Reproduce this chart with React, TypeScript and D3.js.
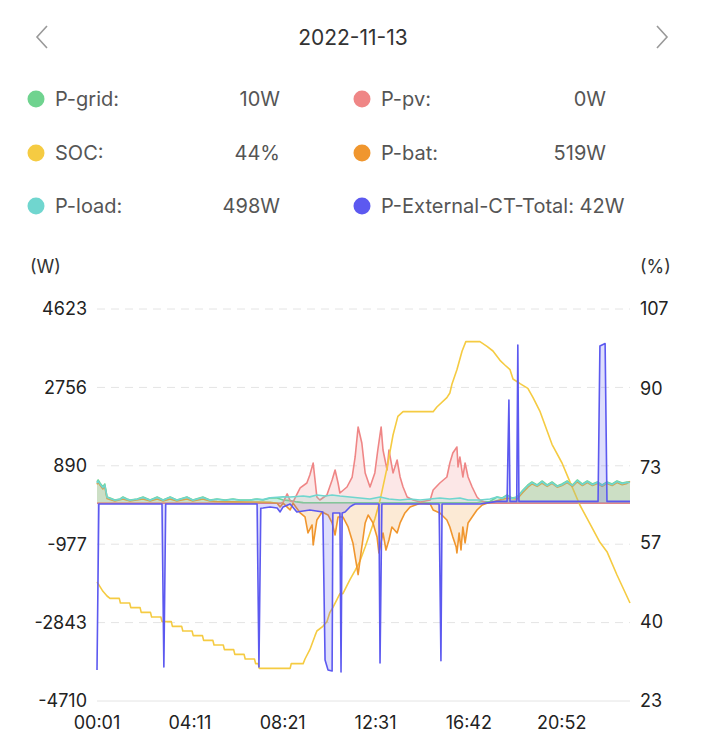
import React from 'react';
import * as d3 from 'd3';

// header + legend
const dateLabel = '2022-11-13';
const legendItems = [
  { name: 'P-grid:', value: '10W', color: '#6fd38f' },
  { name: 'P-pv:', value: '0W', color: '#ef8686' },
  { name: 'SOC:', value: '44%', color: '#f5cb42' },
  { name: 'P-bat:', value: '519W', color: '#f0962e' },
  { name: 'P-load:', value: '498W', color: '#70d6cf' },
  { name: 'P-External-CT-Total:', value: '42W', color: '#5c59f0' },
];

// axes
const leftTicks = [4623, 2756, 890, -977, -2843, -4710];
const rightTicks = [107, 90, 73, 57, 40, 23];
const timeTicks = ['00:01', '04:11', '08:21', '12:31', '16:42', '20:52'];
const timeStart = '00:01';
const timeEnd = '23:56';

type Pt = [string, number];

// P-grid (W)
const gridData: Pt[] = [
  ['00:01', 504], ['00:04', 552], ['00:09', 480], ['00:17', 385], ['00:22', 456], ['00:28', 147],
  ['00:36', 123], ['00:49', 76], ['01:03', 100], ['01:11', 147], ['01:22', 100], ['01:30', 76],
  ['01:49', 100], ['02:05', 147], ['02:24', 76], ['02:43', 147], ['02:59', 76], ['03:18', 147],
  ['03:36', 76], ['04:03', 147], ['04:19', 76], ['04:46', 147], ['05:05', 76], ['05:24', 100],
  ['05:46', 76], ['06:07', 100], ['06:26', 76], ['06:53', 76], ['07:12', 100], ['07:28', 76],
  ['07:47', 123], ['08:06', 123], ['08:22', 76], ['08:41', 60], ['08:59', 30], ['09:16', 12],
  ['17:04', 10], ['17:12', 28], ['17:39', 40], ['17:58', 147], ['18:12', 123], ['18:25', 195],
  ['18:38', 123], ['18:52', 147], ['19:08', 314], ['19:21', 433], ['19:32', 504], ['19:46', 433],
  ['19:59', 528], ['20:13', 433], ['20:26', 504], ['20:40', 409], ['20:53', 456], ['21:07', 528],
  ['21:21', 433], ['21:34', 552], ['21:48', 456], ['22:01', 528], ['22:15', 456], ['22:28', 504],
  ['22:41', 433], ['22:54', 504], ['23:08', 456], ['23:21', 528], ['23:35', 480], ['23:48', 504],
  ['23:56', 504],
];

// P-pv (W)
const pvData: Pt[] = [
  ['00:01', 0], ['08:14', 0], ['08:22', 20], ['08:33', 220], ['08:41', 60], ['08:49', 30],
  ['09:08', 362], ['09:26', 480], ['09:34', 671], ['09:43', 957], ['09:48', 552], ['09:53', 147],
  ['10:01', 76], ['10:20', 195], ['10:34', 552], ['10:42', 790], ['10:50', 480], ['10:55', 242],
  ['11:14', 385], ['11:28', 623], ['11:36', 1100], ['11:44', 1814], ['11:54', 1433], ['12:03', 719],
  ['12:16', 385], ['12:29', 719], ['12:37', 1266], ['12:46', 1814], ['12:51', 1266], ['13:02', 790],
  ['13:07', 1266], ['13:18', 719], ['13:29', 1028], ['13:37', 623], ['13:45', 385], ['13:56', 147],
  ['14:12', 76], ['14:31', 28], ['14:58', 76], ['15:06', 314], ['15:24', 480], ['15:43', 623],
  ['15:51', 957], ['15:59', 1195], ['16:10', 1338], ['16:13', 862], ['16:18', 1100], ['16:26', 623],
  ['16:32', 957], ['16:40', 623], ['16:51', 385], ['17:04', 147], ['17:12', 76], ['17:31', 0],
  ['23:56', 0],
];

// SOC (%)
const socData: Pt[] = [
  ['00:01', 48.5], ['00:09', 47.5], ['00:17', 46.5], ['00:28', 45.5], ['00:36', 45], ['01:01', 45],
  ['01:04', 44], ['01:29', 44], ['01:32', 43], ['01:57', 43], ['02:00', 42], ['02:25', 42],
  ['02:28', 41], ['02:53', 41], ['02:56', 40], ['03:21', 40], ['03:24', 39], ['03:49', 39],
  ['03:52', 38], ['04:17', 38], ['04:20', 37], ['04:45', 37], ['04:48', 36], ['05:13', 36],
  ['05:16', 35], ['05:41', 35], ['05:44', 34], ['06:09', 34], ['06:12', 33], ['06:37', 33],
  ['06:40', 32], ['07:05', 32], ['07:08', 31], ['07:15', 31], ['07:18', 30], ['08:41', 30],
  ['08:44', 31], ['09:16', 31], ['09:21', 32], ['09:34', 34], ['09:48', 37], ['09:53', 38],
  ['10:09', 39], ['10:20', 40], ['10:28', 42], ['10:36', 43], ['10:55', 46], ['11:03', 46],
  ['11:22', 49], ['11:36', 51], ['11:49', 53], ['12:03', 56], ['12:16', 59], ['12:29', 62],
  ['12:43', 66], ['13:02', 73], ['13:18', 80], ['13:31', 84], ['13:45', 85], ['15:06', 85],
  ['15:16', 86], ['15:43', 88], ['15:51', 89], ['15:57', 91], ['16:10', 94], ['16:24', 98],
  ['16:34', 100], ['17:12', 100], ['17:31', 99], ['17:47', 98], ['18:06', 96], ['18:19', 95],
  ['18:33', 94], ['18:41', 92], ['19:00', 91], ['19:21', 90], ['19:35', 88], ['19:54', 85],
  ['20:26', 78], ['20:53', 74], ['21:14', 70], ['21:41', 65], ['22:08', 61], ['22:35', 57],
  ['22:54', 55], ['23:21', 50], ['23:56', 44],
];

// P-bat (W)
const batData: Pt[] = [
  ['00:01', 450], ['00:04', 500], ['00:09', 430], ['00:17', 340], ['00:22', 400], ['00:28', 110],
  ['00:36', 85], ['00:49', 50], ['01:11', 100], ['01:30', 50], ['02:05', 100], ['02:24', 50],
  ['02:43', 100], ['02:59', 50], ['03:18', 100], ['03:36', 50], ['04:03', 100], ['04:19', 50],
  ['04:46', 100], ['05:05', 50], ['05:24', 40], ['06:07', 30], ['06:53', 28], ['07:12', 28],
  ['07:47', 20], ['08:06', 0], ['08:14', -90], ['08:22', 0], ['08:41', -162], ['08:49', 0],
  ['09:08', -233], ['09:21', -328], ['09:29', -709], ['09:40', -519], ['09:43', -995], ['09:53', -400],
  ['10:07', -209], ['10:23', -281], ['10:34', -471], ['10:42', -757], ['10:50', -328], ['11:03', -328],
  ['11:17', -566], ['11:30', -947], ['11:44', -1700], ['11:54', -1043], ['12:03', -471], ['12:11', -281],
  ['12:24', -471], ['12:35', -805], ['12:40', -1186], ['12:51', -709], ['12:59', -1115], ['13:07', -876],
  ['13:15', -566], ['13:29', -709], ['13:37', -471], ['13:50', -233], ['14:04', -90], ['14:31', 0],
  ['14:58', -20], ['15:06', -162], ['15:24', -233], ['15:43', -400], ['15:51', -566], ['15:59', -805],
  ['16:08', -1043], ['16:10', -1186], ['16:16', -709], ['16:21', -1115], ['16:26', -566], ['16:32', -947],
  ['16:40', -471], ['16:51', -328], ['17:04', -162], ['17:18', -43], ['17:31', 0], ['17:58', 60],
  ['18:25', 120], ['18:52', 100], ['19:08', 260], ['19:21', 380], ['19:32', 460], ['19:46', 400],
  ['19:59', 480], ['20:13', 400], ['20:26', 470], ['20:40', 380], ['20:53', 420], ['21:07', 490],
  ['21:21', 400], ['21:34', 510], ['21:48', 420], ['22:01', 490], ['22:15', 420], ['22:28', 470],
  ['22:41', 400], ['22:54', 470], ['23:08', 420], ['23:21', 490], ['23:35', 440], ['23:48', 470],
  ['23:56', 519],
];

// P-load (W)
const loadData: Pt[] = [
  ['00:01', 480], ['00:04', 530], ['00:09', 460], ['00:17', 370], ['00:22', 430], ['00:28', 140],
  ['00:36', 110], ['00:49', 70], ['01:03', 90], ['01:11', 135], ['01:22', 90], ['01:30', 70],
  ['01:49', 95], ['02:05', 135], ['02:24', 70], ['02:43', 135], ['02:59', 70], ['03:18', 140],
  ['03:36', 70], ['04:03', 140], ['04:19', 70], ['04:46', 135], ['05:05', 70], ['05:24', 95],
  ['05:46', 70], ['06:07', 95], ['06:26', 70], ['06:53', 75], ['07:12', 95], ['07:28', 85],
  ['07:47', 130], ['08:06', 140], ['08:22', 150], ['08:41', 147], ['08:59', 160], ['09:16', 171],
  ['09:34', 150], ['09:53', 195], ['10:15', 171], ['10:34', 195], ['10:55', 171], ['11:22', 147],
  ['11:49', 123], ['12:16', 100], ['12:43', 147], ['13:07', 100], ['13:37', 76], ['14:04', 100],
  ['14:31', 76], ['14:58', 100], ['15:24', 123], ['15:51', 100], ['16:18', 123], ['16:40', 76],
  ['17:12', 76], ['17:39', 100], ['17:58', 147], ['18:12', 110], ['18:25', 180], ['18:38', 110],
  ['18:52', 140], ['19:08', 300], ['19:21', 415], ['19:32', 490], ['19:46', 420], ['19:59', 510],
  ['20:13', 420], ['20:26', 490], ['20:40', 395], ['20:53', 440], ['21:07', 515], ['21:21', 420],
  ['21:34', 535], ['21:48', 440], ['22:01', 515], ['22:15', 440], ['22:28', 490], ['22:41', 420],
  ['22:54', 490], ['23:08', 440], ['23:21', 515], ['23:35', 465], ['23:48', 490], ['23:56', 498],
];

// P-External-CT-Total (W)
const extData: Pt[] = [
  ['00:01', -3972], ['00:06', -20], ['02:56', -20], ['03:01', -3900], ['03:06', -20], ['07:12', -20],
  ['07:17', -3900], ['07:22', -120], ['07:28', -114], ['07:47', -90], ['08:06', -114], ['08:14', -209],
  ['08:22', -90], ['08:41', -20], ['08:59', -209], ['09:34', -162], ['10:09', -209], ['10:15', -3734],
  ['10:23', -3972], ['10:34', -3995], ['10:36', -233], ['10:55', -233], ['10:58', -4020], ['11:01', -233],
  ['11:09', -209], ['11:22', -90], ['11:30', -43], ['11:36', -20], ['12:40', -20], ['12:43', -3805],
  ['12:48', -20], ['15:22', -20], ['15:27', -3750], ['15:30', -20], ['17:12', -20], ['17:58', 42],
  ['18:25', 42], ['18:30', 2456], ['18:33', 42], ['18:51', 42], ['18:54', 3766], ['18:57', 42],
  ['22:30', 42], ['22:35', 3740], ['22:49', 3800], ['22:54', 42], ['23:56', 42],
];

const toMin = (t: string) => {
  const [h, m] = t.split(':').map(Number);
  return h * 60 + m;
};

export default function App() {
  const plot = { left: 97, right: 630, top: 309, bottom: 701 };

  const x = d3.scaleLinear()
    .domain([toMin(timeStart), toMin(timeEnd)])
    .range([plot.left, plot.right]);
  const yW = d3.scaleLinear()
    .domain([leftTicks[leftTicks.length - 1], leftTicks[0]])
    .range([plot.bottom, plot.top]);
  const yP = d3.scaleLinear()
    .domain([rightTicks[rightTicks.length - 1], rightTicks[0]])
    .range([plot.bottom, plot.top]);

  const line = d3.line<Pt>().x(d => x(toMin(d[0]))).y(d => yW(d[1]));
  const area = d3.area<Pt>().x(d => x(toMin(d[0]))).y0(yW(0)).y1(d => yW(d[1]));
  const socLine = d3.line<Pt>().x(d => x(toMin(d[0]))).y(d => yP(d[1]));

  const series = [
    { data: gridData, color: legendItems[0].color },
    { data: pvData, color: legendItems[1].color },
    { data: null, color: legendItems[2].color },
    { data: batData, color: legendItems[3].color },
    { data: loadData, color: legendItems[4].color },
    { data: extData, color: legendItems[5].color },
  ];

  const font = 'Inter, "Noto Sans", sans-serif';
  const rows = [99, 153, 206];

  return (
    <div style={{ position: 'absolute', left: 0, top: 0 }}>
      <svg width={706} height={750} style={{ display: 'block', fontFamily: font }}>
        <rect width={706} height={750} fill="#fff" />

        {/* header */}
        <path d="M47,26 L37,37 L47,48" fill="none" stroke="#999" strokeWidth={1.6} />
        <path d="M657,26 L667,37 L657,48" fill="none" stroke="#999" strokeWidth={1.6} />
        <text x={353} y={45} textAnchor="middle" fontSize={21} fill="#333">{dateLabel}</text>

        {/* legend */}
        {legendItems.map((it, i) => {
          const col = i % 2;
          const cy = rows[Math.floor(i / 2)];
          const cx = col === 0 ? 36 : 362;
          const valX = col === 0 ? 280 : 606;
          const inline = it.name.length > 12;
          return (
            <g key={it.name}>
              <circle cx={cx} cy={cy} r={8.5} fill={it.color} />
              <text x={cx + 19} y={cy + 7} fontSize={20} fill="#555">
                {inline ? `${it.name} ${it.value}` : it.name}
              </text>
              {!inline && (
                <text x={valX} y={cy + 7} fontSize={20} fill="#555" textAnchor="end">{it.value}</text>
              )}
            </g>
          );
        })}

        {/* axis units */}
        <text x={30} y={273} fontSize={18} fill="#333">(W)</text>
        <text x={640} y={273} fontSize={18} fill="#333">(%)</text>

        {/* grid */}
        {leftTicks.map((v, i) => (
          <line key={v} x1={plot.left} x2={plot.right} y1={yW(v)} y2={yW(v)}
            stroke="#e4e4e4" strokeWidth={1}
            strokeDasharray={i === leftTicks.length - 1 ? undefined : '8,6'} />
        ))}
        {leftTicks.map(v => (
          <text key={v} x={87} y={yW(v)} dy="0.36em" textAnchor="end" fontSize={18} fill="#222">{v}</text>
        ))}
        {rightTicks.map(v => (
          <text key={v} x={640} y={yP(v)} dy="0.36em" fontSize={18} fill="#222">{v}</text>
        ))}
        {timeTicks.map(t => (
          <text key={t} x={x(toMin(t))} y={729} textAnchor="middle" fontSize={18} fill="#222">{t}</text>
        ))}

        {/* series */}
        {series.map((s, i) => s.data ? (
          <g key={i}>
            <path d={area(s.data) || ''} fill={s.color} fillOpacity={0.2} />
            <path d={line(s.data) || ''} fill="none" stroke={s.color} strokeWidth={1.6} strokeLinejoin="round" />
          </g>
        ) : (
          <path key={i} d={socLine(socData) || ''} fill="none" stroke={s.color} strokeWidth={1.6} strokeLinejoin="round" />
        ))}
      </svg>
    </div>
  );
}
